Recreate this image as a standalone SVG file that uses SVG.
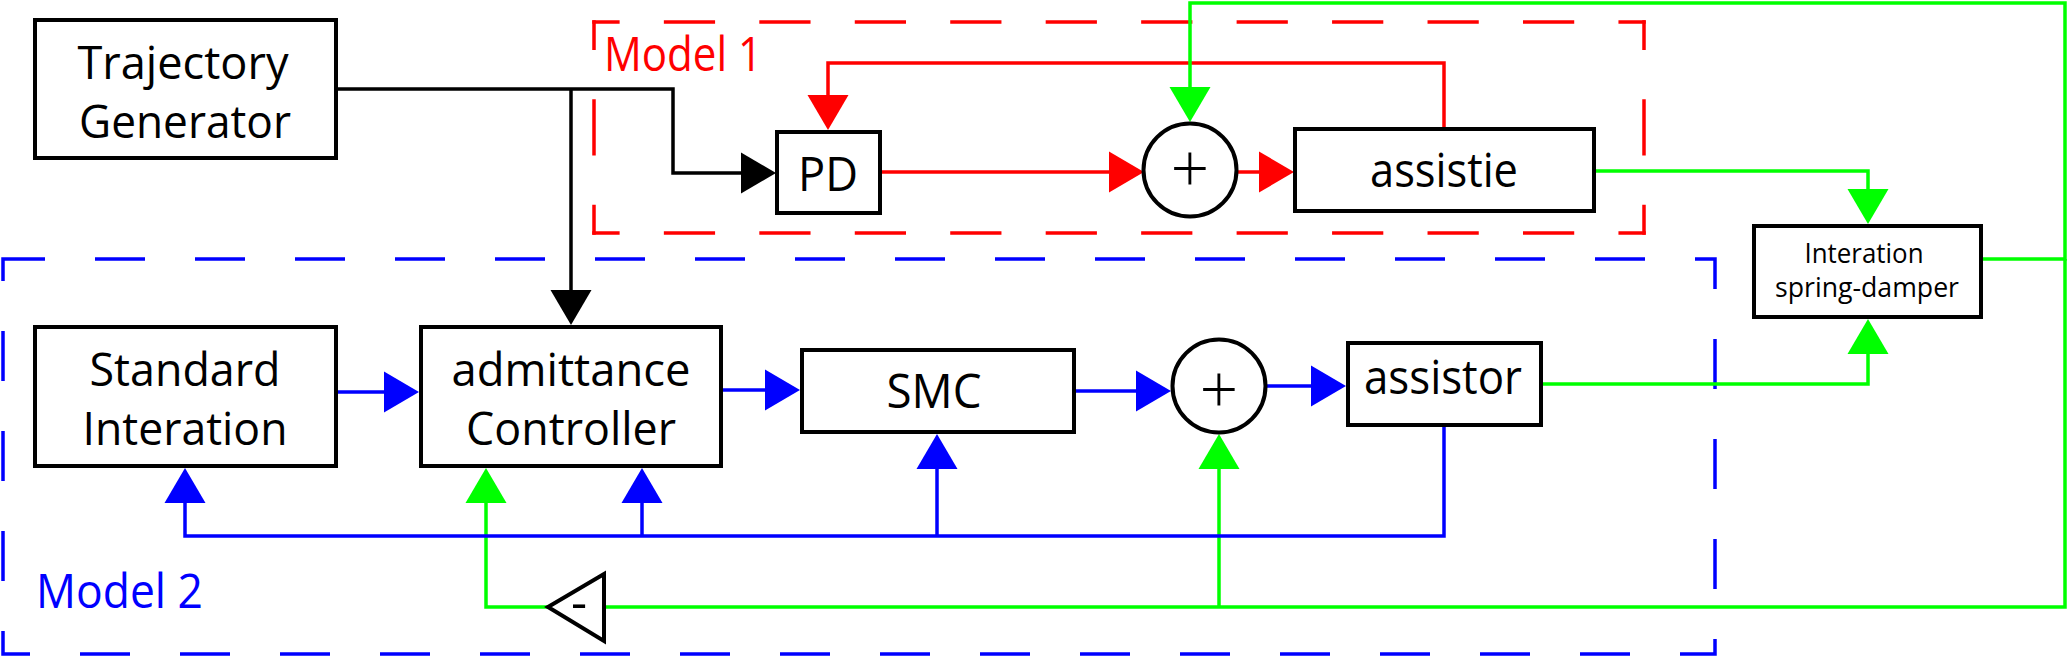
<svg xmlns="http://www.w3.org/2000/svg" width="2068" height="657" viewBox="0 0 2068 657">
<defs>
<style>
.box{fill:#fff;stroke:#000;stroke-width:4}
.t{font-family:"Open Sans","Noto Sans","DejaVu Sans",sans-serif;font-size:46px;text-anchor:middle;fill:#000}
.t1{font-size:48px}
.ts{font-size:28px}
.op{font-size:68px;font-weight:300}
.k{fill:none;stroke:#000;stroke-width:3.5}
.r{fill:none;stroke:#f00;stroke-width:3.5}
.g{fill:none;stroke:#0f0;stroke-width:3.5}
.b{fill:none;stroke:#00f;stroke-width:3.5}
</style>
<marker id="ak" markerUnits="userSpaceOnUse" markerWidth="36" markerHeight="42" refX="0" refY="20.5" orient="auto" overflow="visible"><path d="M0,0 L35,20.5 L0,41 Z" fill="#000"/></marker>
<marker id="ar" markerUnits="userSpaceOnUse" markerWidth="36" markerHeight="42" refX="0" refY="20.5" orient="auto" overflow="visible"><path d="M0,0 L35,20.5 L0,41 Z" fill="#f00"/></marker>
<marker id="ag" markerUnits="userSpaceOnUse" markerWidth="36" markerHeight="42" refX="0" refY="20.5" orient="auto" overflow="visible"><path d="M0,0 L35,20.5 L0,41 Z" fill="#0f0"/></marker>
<marker id="ab" markerUnits="userSpaceOnUse" markerWidth="36" markerHeight="42" refX="0" refY="20.5" orient="auto" overflow="visible"><path d="M0,0 L35,20.5 L0,41 Z" fill="#00f"/></marker>
</defs>
<rect width="2068" height="657" fill="#fff"/>

<g id="model1-frame" fill="none" stroke="#f00" stroke-width="3.5" stroke-linecap="square">
<path d="M594,22 H1644" stroke-dasharray="47.73 47.73" stroke-dashoffset="23.86"/>
<path d="M594,233 H1644" stroke-dasharray="47.73 47.73" stroke-dashoffset="23.86"/>
<path d="M594,22 V233" stroke-dasharray="52.75 52.75" stroke-dashoffset="26.38"/>
<path d="M1644,22 V233" stroke-dasharray="52.75 52.75" stroke-dashoffset="26.38"/>
<text x="604" y="71" style="font-family:'Open Sans','Noto Sans',sans-serif;font-size:47px;fill:#f00;stroke:none" textLength="158" lengthAdjust="spacingAndGlyphs">Model 1</text>
</g>
<g id="model2-frame">
<rect x="3" y="259" width="1712" height="395" fill="none" stroke="#00f" stroke-width="3.5" stroke-dasharray="50 50" stroke-dashoffset="8"/>
<text x="36" y="608" style="font-family:'Open Sans','Noto Sans',sans-serif;font-size:47px;fill:#00f" textLength="167" lengthAdjust="spacingAndGlyphs">Model 2</text>
</g>

<g id="connectors">
<path class="k" d="M336,89 H673 V173 H741" marker-end="url(#ak)"/>
<path class="k" d="M571,89 V290" marker-end="url(#ak)"/>
<path class="r" d="M880,172 H1109" marker-end="url(#ar)"/>
<path class="r" d="M1237,172 H1259" marker-end="url(#ar)"/>
<path class="r" d="M1444,129 V63 H828 V95" marker-end="url(#ar)"/>
<path class="g" d="M1981,259 H2065 V3 H1190 V87" marker-end="url(#ag)"/>
<path class="g" d="M2065,259 V607 H604"/>
<path class="g" d="M548,607 H486 V503" marker-end="url(#ag)"/>
<path class="g" d="M1219,607 V469" marker-end="url(#ag)"/>
<path class="g" d="M1594,171 H1868 V189" marker-end="url(#ag)"/>
<path class="g" d="M1541,384 H1868 V354" marker-end="url(#ag)"/>
<path class="b" d="M336,392 H384" marker-end="url(#ab)"/>
<path class="b" d="M721,390 H765" marker-end="url(#ab)"/>
<path class="b" d="M1074,391 H1136" marker-end="url(#ab)"/>
<path class="b" d="M1266,386 H1311" marker-end="url(#ab)"/>
<path class="b" d="M1444,425 V536 H185 V503" marker-end="url(#ab)"/>
<path class="b" d="M642,536 V503" marker-end="url(#ab)"/>
<path class="b" d="M937,536 V469" marker-end="url(#ab)"/>
</g>

<g id="trajectory-generator">
<rect class="box" x="35" y="20" width="301" height="138"/>
<text class="t" x="183" y="79" textLength="211" lengthAdjust="spacingAndGlyphs">Trajectory</text>
<text class="t" x="185" y="138" textLength="212" lengthAdjust="spacingAndGlyphs">Generator</text>
</g>
<g id="pd">
<rect class="box" x="777" y="132" width="103" height="81"/>
<text class="t t1" x="828" y="191" textLength="60" lengthAdjust="spacingAndGlyphs">PD</text>
</g>
<g id="sum1">
<circle cx="1190" cy="170" r="46.5" fill="#fff" stroke="#000" stroke-width="4"/>
<text class="t op" x="1190" y="193">+</text>
</g>
<g id="assistie">
<rect class="box" x="1295" y="129" width="299" height="82"/>
<text class="t t1" x="1444" y="187" textLength="148" lengthAdjust="spacingAndGlyphs">assistie</text>
</g>
<g id="interaction-spring-damper">
<rect class="box" x="1754" y="226" width="227" height="91"/>
<text class="t ts" x="1864" y="263" textLength="119" lengthAdjust="spacingAndGlyphs">Interation</text>
<text class="t ts" x="1867" y="297" textLength="184" lengthAdjust="spacingAndGlyphs">spring-damper</text>
</g>
<g id="standard-interaction">
<rect class="box" x="35" y="327" width="301" height="139"/>
<text class="t" x="185" y="386" textLength="191" lengthAdjust="spacingAndGlyphs">Standard</text>
<text class="t" x="185" y="445" textLength="205" lengthAdjust="spacingAndGlyphs">Interation</text>
</g>
<g id="admittance-controller">
<rect class="box" x="421" y="327" width="300" height="139"/>
<text class="t" x="571" y="386" textLength="239" lengthAdjust="spacingAndGlyphs">admittance</text>
<text class="t" x="571" y="445" textLength="210" lengthAdjust="spacingAndGlyphs">Controller</text>
</g>
<g id="smc">
<rect class="box" x="802" y="350" width="272" height="82"/>
<text class="t t1" x="934" y="408" textLength="95" lengthAdjust="spacingAndGlyphs">SMC</text>
</g>
<g id="sum2">
<circle cx="1219" cy="386" r="46.5" fill="#fff" stroke="#000" stroke-width="4"/>
<text class="t op" x="1219" y="414">+</text>
</g>
<g id="assistor">
<rect class="box" x="1348" y="343" width="193" height="82"/>
<text class="t t1" x="1443" y="394" textLength="158" lengthAdjust="spacingAndGlyphs">assistor</text>
</g>
<g id="negate">
<polygon points="548,607 604,574 604,641" fill="#fff" stroke="#000" stroke-width="4"/>
<text class="t" x="579" y="620" style="font-size:50px">-</text>
</g>
</svg>
